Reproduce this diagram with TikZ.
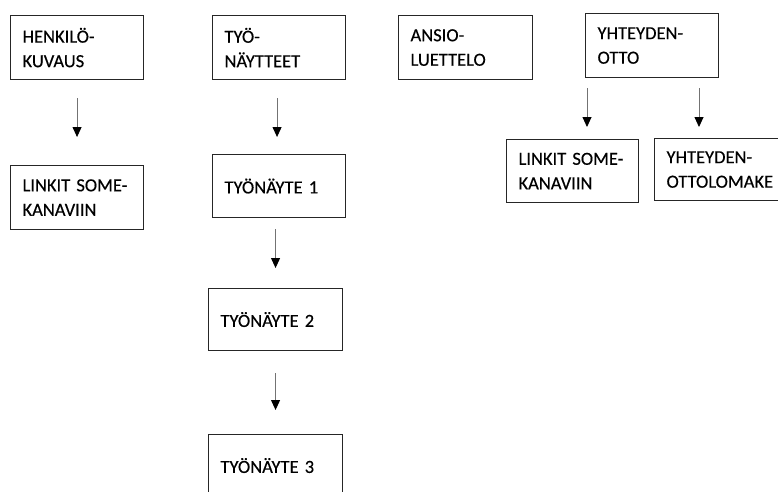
\documentclass[tikz,border=0pt]{standalone}
\usepackage{fontspec}
\setmainfont{Carlito}[WordSpace=0.6,FakeBold=0.4]
\usetikzlibrary{arrows.meta}
\begin{document}
\begin{tikzpicture}[x=1pt,y=-1pt,
  box/.style={draw=black!85, line width=1.1pt, rectangle, anchor=north west,
    inner xsep=12pt, inner ysep=0pt, align=left,
    font=\fontsize{18.5}{24.5}\selectfont},
  arr/.style={draw=black!55, line width=0.9pt,
    -{Triangle[width=9pt,length=10pt,color=black]}}]
\useasboundingbox (0,0) rectangle (778,491);
\clip (0,0) rectangle (778,491);
% top row
\node[box, minimum width=133pt, minimum height=64pt, text width=109pt] (hk) at (10,15) {HENKILÖ-\\KUVAUS};
\node[box, minimum width=133pt, minimum height=64pt, text width=109pt] (tn) at (212,15) {TYÖ-\\NÄYTTEET};
\node[box, minimum width=134pt, minimum height=64pt, text width=110pt] (al) at (398,15) {ANSIO-\\LUETTELO};
\node[box, minimum width=133pt, minimum height=64pt, text width=109pt] (yo) at (585,13) {YHTEYDEN-\\OTTO};
% second row
\node[box, minimum width=133pt, minimum height=64pt, text width=109pt] (lk1) at (10,165) {LINKIT SOME-\\KANAVIIN};
\node[box, minimum width=133pt, minimum height=63pt, text width=109pt] (t1) at (212,154) {TYÖNÄYTE 1};
\node[box, minimum width=132pt, minimum height=63pt, text width=108pt] (lk2) at (506,139) {LINKIT SOME-\\KANAVIIN};
\node[box, minimum width=140pt, minimum height=62pt, text width=116pt] (ylo) at (654,138) {YHTEYDEN-\\OTTOLOMAKE};
% column
\node[box, minimum width=134pt, minimum height=62pt, text width=110pt] (t2) at (208,288) {TYÖNÄYTE 2};
\node[box, minimum width=134pt, minimum height=62pt, text width=110pt] (t3) at (208,434) {TYÖNÄYTE 3};
% arrows
\draw[arr, shorten <=18pt, shorten >=28pt] (hk.south) -- (hk.south |- lk1.north);
\draw[arr, shorten <=18pt, shorten >=17pt] ([xshift=-2pt]tn.south) -- ([xshift=-2pt]tn.south |- t1.north);
\draw[arr, shorten <=11pt, shorten >=20pt] (t2.north |- t1.south) -- (t2.north);
\draw[arr, shorten <=22pt, shorten >=24pt] (t2.south) -- (t3.north);
\draw[arr, shorten <=10pt, shorten >=12pt] ([xshift=2pt]yo.south west) -- ([xshift=2pt]yo.south west |- lk2.north);
\draw[arr, shorten <=10pt, shorten >=11pt] ([xshift=114pt]yo.south west) -- ([xshift=114pt]yo.south west |- ylo.north);
\end{tikzpicture}
\end{document}
